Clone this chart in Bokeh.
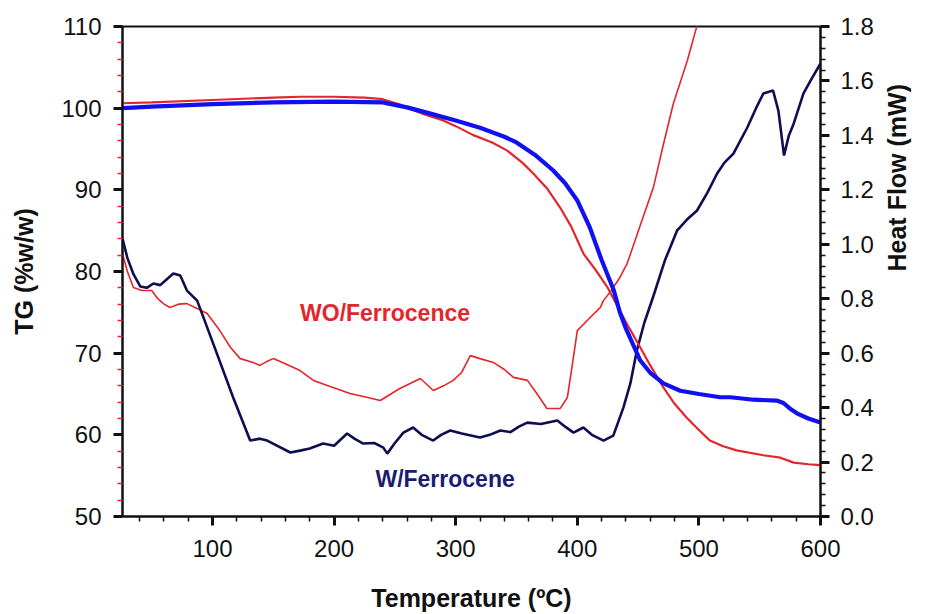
import math
import numpy as np
from bokeh.plotting import figure
from bokeh.models import Range1d, LinearAxis, FixedTicker, NumeralTickFormatter
from bokeh.core.properties import value
from bokeh.embed import file_html
from bokeh.resources import INLINE

# ---- data ----
tg_w_T = [26, 50, 100, 150, 200, 240, 260, 280, 300, 320, 340, 350, 365, 380, 390, 400, 410, 420, 430,
          435, 440, 451.8, 460, 470.8, 484.7, 500, 517.6, 526, 545, 564, 569.5, 575, 581, 590, 600]
tg_w = [100.0, 100.2, 100.5, 100.7, 100.8, 100.7, 100.1, 99.3, 98.5, 97.6, 96.5, 95.8, 94.3, 92.4, 90.8,
        88.7, 85.5, 81.4, 77.7, 75.0, 73.0, 69.1, 67.6, 66.3, 65.4, 65.0, 64.6, 64.6, 64.3, 64.2, 63.9,
        63.2, 62.6, 62.0, 61.5]

tg_wo_T = [26, 50, 100, 150, 172, 200, 225, 240, 255, 262.6, 275, 289.8, 300, 314.5, 330, 342.4, 355,
           363.8, 375, 386, 395, 405, 415, 424.7, 435, 443, 451.8, 460, 470.8, 480, 490, 500, 509, 520,
           531, 553, 567, 578, 590, 600]
tg_wo = [100.6, 100.7, 101.0, 101.3, 101.4, 101.4, 101.3, 101.1, 100.4, 99.9, 99.2, 98.5, 97.8, 96.7,
         95.8, 94.8, 93.3, 92.0, 90.2, 87.8, 85.5, 82.2, 80.2, 78.1, 75.2, 73.0, 70.7, 68.5, 65.8, 63.8,
         62.1, 60.6, 59.3, 58.6, 58.1, 57.5, 57.2, 56.6, 56.4, 56.3]

hf_w_T = [26, 30, 35, 40.6, 46, 51.4, 57, 62, 67.8, 73.5, 79, 87.4, 100.6, 117, 131, 139, 145, 164, 172,
          180, 191, 200, 210.7, 217, 224, 233, 240.5, 243.7, 250, 257, 265, 272, 281.5, 288, 295.5, 305,
          320, 328, 336.7, 345, 352, 358.9, 370, 383.6, 390, 396.9, 405, 412, 421.6, 429.6, 437.9, 443.6,
          449, 455, 462.6, 472, 482, 490, 498.5, 507, 515, 521, 528.4, 539.8, 547, 553, 561, 565.4, 570,
          574, 578, 586, 593, 600]
hf_w = [1.021, 0.95, 0.89, 0.845, 0.84, 0.856, 0.85, 0.87, 0.893, 0.885, 0.83, 0.793, 0.635, 0.437,
        0.279, 0.286, 0.279, 0.235, 0.242, 0.25, 0.268, 0.26, 0.305, 0.285, 0.268, 0.27, 0.253, 0.231,
        0.27, 0.308, 0.327, 0.30, 0.279, 0.30, 0.316, 0.305, 0.29, 0.30, 0.316, 0.31, 0.33, 0.345, 0.34,
        0.353, 0.33, 0.308, 0.327, 0.30, 0.279, 0.297, 0.40, 0.488, 0.61, 0.71, 0.81, 0.94, 1.05, 1.09,
        1.124, 1.19, 1.26, 1.30, 1.333, 1.429, 1.50, 1.554, 1.565, 1.49, 1.326, 1.40, 1.444, 1.554,
        1.61, 1.664]

hf_wo_T = [26, 30, 35, 42, 50, 55, 59.6, 65, 72, 79, 87, 95.6, 106, 115, 122.8, 133.5, 139, 145, 150,
           158, 166.6, 172, 183, 195, 205, 213, 225, 238, 254, 271, 281.6, 290, 298, 305, 312, 320, 331,
           340, 347.5, 359, 367, 375, 386, 391.8, 396, 400, 410.6, 419, 421.5, 428, 435, 441, 454, 462.6,
           471, 479, 490.5, 498, 502]
hf_wo = [0.966, 0.90, 0.841, 0.83, 0.83, 0.80, 0.782, 0.768, 0.78, 0.782, 0.765, 0.746, 0.683, 0.62,
         0.58, 0.566, 0.555, 0.57, 0.58, 0.565, 0.547, 0.536, 0.50, 0.48, 0.465, 0.452, 0.44, 0.426,
         0.47, 0.507, 0.463, 0.48, 0.50, 0.53, 0.591, 0.58, 0.566, 0.54, 0.511, 0.50, 0.45, 0.397, 0.397,
         0.437, 0.56, 0.683, 0.731, 0.768, 0.793, 0.83, 0.878, 0.929, 1.098, 1.209, 1.37, 1.517, 1.675,
         1.796, 1.86]

x_ticks = [100, 200, 300, 400, 500, 600]
tg_ticks = [50, 60, 70, 80, 90, 100, 110]
hf_ticks = [0.0, 0.2, 0.4, 0.6, 0.8, 1.0, 1.2, 1.4, 1.6, 1.8]

labels = ["WO/Ferrocence", "W/Ferrocene"]
label_T = [172, 234]
label_hf = [0.749, 0.139]

RED = "#e3262b"
BLUE = "#1010f2"
NAVY = "#0e0e50"
FONT = "Liberation Sans"

p = figure(width=927, height=614, x_range=Range1d(26, 600), y_range=Range1d(50, 110),
           output_backend="svg", toolbar_location=None,
           min_border_left=122, min_border_right=107, min_border_top=26, min_border_bottom=98)
p.extra_y_ranges = {"hf": Range1d(0, 1.8)}
p.xgrid.visible = False
p.ygrid.visible = False
p.outline_line_color = "#111111"
p.outline_line_width = 2
p.background_fill_color = "white"
p.border_fill_color = "white"

p.line(hf_wo_T, hf_wo, y_range_name="hf", color=RED, line_width=1.6)
p.line(hf_w_T, hf_w, y_range_name="hf", color=NAVY, line_width=2.6)
p.line(tg_wo_T, tg_wo, color=RED, line_width=2.2)
p.line(tg_w_T, tg_w, color=BLUE, line_width=4.2)

p.text(x=[label_T[0]], y=[label_hf[0]], text=[labels[0]], y_range_name="hf",
       text_color=RED, text_font=value(FONT), text_font_style="bold",
       text_font_size="23px", text_baseline="middle", text_align="left")
p.text(x=[label_T[1]], y=[label_hf[1]], text=[labels[1]], y_range_name="hf",
       text_color="#1c1c72", text_font=value(FONT), text_font_style="bold",
       text_font_size="23px", text_baseline="middle", text_align="left")


def style(ax, minor_color="#111111"):
    ax.axis_line_color = "#111111"
    ax.axis_line_width = 2
    ax.major_tick_line_color = "#111111"
    ax.major_tick_line_width = 3
    ax.major_tick_in = 0
    ax.major_tick_out = 9
    ax.minor_tick_line_color = minor_color
    ax.minor_tick_line_width = 1.5
    ax.minor_tick_in = 0
    ax.minor_tick_out = 5
    ax.major_label_text_font = FONT
    ax.major_label_text_font_size = "24px"
    ax.major_label_text_color = "#111111"
    ax.axis_label_text_font = FONT
    ax.axis_label_text_font_size = "25px"
    ax.axis_label_text_font_style = "bold"
    ax.axis_label_text_color = "#111111"


xa = p.xaxis[0]
style(xa)
xa.ticker = FixedTicker(ticks=x_ticks, minor_ticks=[float(v) for v in np.arange(40, 600, 20) if v % 100])
xa.axis_label = "Temperature (ºC)"
xa.major_label_standoff = 14
xa.axis_label_standoff = 24

ya = p.yaxis[0]
style(ya, minor_color=RED)
ya.ticker = FixedTicker(ticks=tg_ticks, minor_ticks=[float(v) for v in np.arange(52, 110, 2) if v % 10])
ya.axis_label = "TG (%w/w)"
ya.major_label_standoff = 12
ya.axis_label_standoff = 20

ra = LinearAxis(y_range_name="hf")
style(ra)
ra.ticker = FixedTicker(ticks=hf_ticks,
                        minor_ticks=[round(v, 2) for v in np.arange(0.04, 1.8, 0.04) if round(v / 0.2, 3) % 1])
ra.formatter = NumeralTickFormatter(format="0.0")
ra.axis_label = "Heat Flow (mW)"
ra.axis_label_orientation = math.pi / 2
ra.major_label_standoff = 11
ra.axis_label_standoff = 20
p.add_layout(ra, "right")

open("out.html", "w").write(file_html(p, INLINE))
